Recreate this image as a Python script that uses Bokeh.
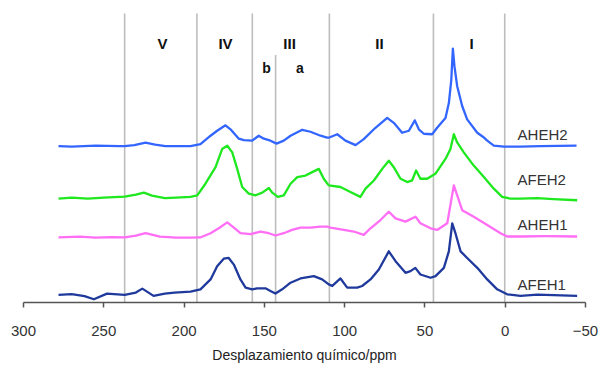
import numpy as np
from bokeh.plotting import figure
from bokeh.models import Range1d, FixedTicker
from bokeh.core.properties import value
from bokeh.embed import file_html
from bokeh.resources import INLINE

# ---- data ----
# AHEH2 (blue, top)
ppm_aheh2 = [278.2, 270, 255, 240, 237.1, 231, 224, 218, 211.6, 200, 196, 189.8, 183.5, 179.4, 174.2,
             171.1, 165.9, 162.8, 157.6, 153.5, 150.3, 146.2, 142.4, 137.9, 133.7, 126.4, 121.3, 115.0,
             110.9, 109.9, 104.6, 99.5, 93.2, 88.1, 80.8, 73.5, 69.4, 64.2, 60.0, 56.3, 53.8, 50.7, 45.5,
             42.4, 37.2, 35.1, 33.6, 32.6, 31.6, 29.9, 26.8, 23.7, 17.4, 13.9, 11.2, 7.1, 0.9, -9.5, -22.0,
             -44.4]
int_aheh2 = [0.5, 0, 1, 0.5, 0.5, 1.5, 4, 2, 0.5, 0.5, 0.5, 2.5, 11, 16, 21.5,
             17.5, 8, 6.5, 6, 11, 8, 6, 3, 6, 11, 17, 15, 11,
             9, 9, 12.5, 6, 1.5, 7.5, 19, 29, 24, 14, 16, 26.5, 17.5, 13, 12.5,
             19, 29, 44, 67, 99, 81, 61, 41, 27.5, 14, 10, 6, 1, 0, 0, 0.5,
             1]

# AFEH2 (green)
ppm_afeh2 = [278.2, 270, 260, 250, 237, 230, 225, 220, 212, 205, 196, 191.8, 186.7, 180.4, 176.3,
             173.1, 170.0, 166.9, 163.8, 159.7, 155.5, 151.3, 147.2, 145.1, 141.6, 137.9, 133.7, 129.5,
             124.4, 120.2, 116.1, 113.0, 109.9, 102.6, 96.4, 90.2, 87.0, 81.8, 76.6, 72.5, 69.4, 65.2,
             61.0, 58.0, 55.5, 52.8, 48.6, 43.5, 37.2, 34.1, 32.0, 29.9, 25.8, 19.6, 13.3, 7.1, 1.9,
             -3.3, -9.5, -20, -30, -44.8]
int_afeh2 = [0, 1, 0, 1, 2, 4, 6, 3, 0.5, 1, 1.7, 3.3, 15, 31.7, 50,
             53.3, 46.7, 30, 11.7, 5, 3.3, 6, 10.7, 6, 1.7, 3.3, 15, 21.7,
             23.3, 26.7, 30, 20, 13.3, 11.7, 6.7, 1.7, 10, 18.3, 30, 38.3, 31.7, 20,
             16.7, 18.3, 28.3, 20, 20, 25, 40, 50, 65, 56.7, 46.7, 33.3, 21.7, 10, 1.7,
             0, 0, 0.5, -0.5, -1.7]

# AHEH1 (pink)
ppm_aheh1 = [278.2, 265, 255, 245, 237, 230, 224, 215, 205, 196, 190, 183.5, 178.4, 173.1, 169.0,
             164.9, 158.6, 152.4, 147.2, 143.1, 137.9, 132.7, 127.5, 121.3, 115.0, 110.9, 108.8, 100.5,
             94.3, 88.1, 83.9, 77.7, 72.5, 68.3, 62.1, 55.9, 52.8, 46.5, 42.4, 36.1, 32.0, 29.9, 26.8,
             19.6, 11.2, 2.9, -1.2, -9.5, -25, -44.8]
int_aheh1 = [0.2, 1, 0, 0.5, 0.2, 2, 4.5, 1, 0, 0, 0.2, 4.5, 9.5, 15.5, 10.2,
             4.5, 3.5, 6.2, 4.5, 2.2, 4.5, 7.8, 10.2, 10.2, 11.2, 11.2, 10.2, 7.8,
             6.2, 2.8, 9.5, 17.8, 26.2, 19.5, 16.2, 21.2, 14.5, 9.5, 7.8, 14.5, 52.8, 42.8, 27.8,
             21.2, 12.8, 4.5, 1.2, 1.2, 1.5, 1.2]

# AFEH1 (navy, bottom)
ppm_afeh1 = [278.2, 270, 262, 256.2, 248, 237, 230, 226, 219, 212, 206, 196, 189.8, 183.5, 179.4,
             175.3, 172.2, 169.0, 164.9, 161.7, 157.6, 154.5, 149.3, 146.2, 143.1, 138.9, 133.7, 127.5,
             119.2, 114.0, 109.9, 107.7, 102.6, 98.4, 92.2, 89.1, 83.9, 78.7, 72.5, 68.3, 62.1, 59.0,
             56.0, 52.8, 46.5, 43.4, 38.2, 35.1, 33.0, 31.0, 27.8, 23.7, 17.4, 11.2, 5.0, -1.2, -9.5,
             -20, -30, -44.8]
int_afeh1 = [0.7, 1.5, -0.5, -3.7, 2, 0.7, 3, 7, -0.3, 2, 3, 4, 6.3, 16.3, 29.7,
             37.3, 38, 31.3, 16.3, 8, 6.3, 7.3, 7.3, 4.7, 2, 6.3, 13, 17.3,
             19.7, 16.3, 11.3, 9.7, 17.3, 8, 8, 9.7, 16.3, 26.3, 44.7, 34.7, 23, 24.7,
             28, 21.3, 18, 19.7, 28, 44.7, 73, 63, 44.7, 38, 28, 16.3, 6.3, 1.3, -0.3,
             1, 0.5, -0.3]

series_names = ["AHEH2", "AFEH2", "AHEH1", "AFEH1"]
series_offsets = [157.5, 105, 65.5, 7]
series_colors = ["#3366FF", "#1EE81E", "#FF6EF5", "#1F3A9C"]

# region boundaries (ppm) and labels
boundary_ppm = [237, 192, 157.5, 143, 109.5, 44.7, 0.3]
boundary_top = [292, 292, 292, 250, 292, 292, 292]
region_labels = ["V", "IV", "III", "II", "I"]
region_ppm = [213.4, 174.2, 134.3, 78.3, 21.0]
sub_labels = ["b", "a"]
sub_ppm = [148.7, 127.8]

x_ticks = [300, 250, 200, 150, 100, 50, 0, -50]

# ---- figure ----
p = figure(width=599, height=365, output_backend="svg", toolbar_location=None,
           x_range=Range1d(300, -50), y_range=Range1d(0, 295),
           min_border_left=23, min_border_right=14, min_border_top=10, min_border_bottom=60)
p.outline_line_color = None
p.xgrid.visible = False
p.ygrid.visible = False
p.yaxis.visible = False
p.background_fill_color = "white"
p.border_fill_color = "white"

# boundaries
p.segment(x0=boundary_ppm, y0=[0] * len(boundary_ppm), x1=boundary_ppm, y1=boundary_top,
          line_color="#BDBDBD", line_width=1.6)

# spectra
all_ppm = [ppm_aheh2, ppm_afeh2, ppm_aheh1, ppm_afeh1]
all_int = [int_aheh2, int_afeh2, int_aheh1, int_afeh1]
for xs, ys, off, col in zip(all_ppm, all_int, series_offsets, series_colors):
    p.line(xs, np.array(ys) + off, line_color=col, line_width=2.3, line_join="round")

# series labels
label_y = [170, 124, 79, 18]
p.text(x=[-7.7] * 4, y=label_y, text=series_names, text_font=value("Liberation Sans"),
       text_font_size="15px", text_color="#333333", text_align="left", text_baseline="middle")

# region labels
p.text(x=region_ppm, y=[262] * len(region_ppm), text=region_labels, text_font=value("Liberation Sans"),
       text_font_size="15px", text_font_style="bold", text_color="#111111",
       text_align="center", text_baseline="middle")
p.text(x=sub_ppm, y=[237] * len(sub_ppm), text=sub_labels, text_font=value("Liberation Sans"),
       text_font_size="14px", text_font_style="bold", text_color="#111111",
       text_align="center", text_baseline="middle")

# x axis
ax = p.xaxis[0]
ax.ticker = FixedTicker(ticks=x_ticks)
ax.minor_tick_line_color = None
ax.major_tick_in = 0
ax.major_tick_out = 5
ax.axis_line_color = "#555555"
ax.axis_line_width = 1.5
ax.major_tick_line_color = "#555555"
ax.major_tick_line_width = 1.5
ax.major_label_text_font = "Liberation Sans"
ax.major_label_text_font_size = "15px"
ax.major_label_text_color = "#333333"
ax.major_label_standoff = 18
ax.axis_label = "Desplazamiento químico/ppm"
ax.axis_label_text_font = "Liberation Sans"
ax.axis_label_text_font_size = "14px"
ax.axis_label_text_font_style = "normal"
ax.axis_label_text_color = "#222222"
ax.axis_label_standoff = 8

open("out.html", "w").write(file_html(p, INLINE))
